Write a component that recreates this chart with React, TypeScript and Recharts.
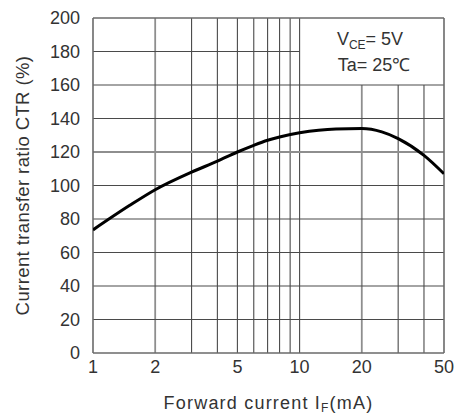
import React from "react";
import {
  LineChart,
  Line,
  XAxis,
  YAxis,
  ReferenceLine,
  Customized,
} from "recharts";

// CTR curve
const currentMA = [1, 1.5, 2, 3, 4, 5, 6, 7, 8, 10, 15, 20, 25, 30, 40, 50];
const ctrPct = [73.5, 88, 97.5, 108, 114.5, 120, 124, 127, 129, 131.5, 133.8, 134, 132, 128, 118, 107];

const xTicks = [1, 2, 5, 10, 20, 50];
const yTicks = [0, 20, 40, 60, 80, 100, 120, 140, 160, 180, 200];

// grid layout of the figure
const fullVertical = [2, 3, 4, 5, 6, 7, 8, 9, 10];
const shortVertical = [20, 30, 40];
const fullHorizontal = [20, 40, 60, 80, 100, 120, 140, 160];
const shortHorizontal = [180];
const lightLines = [2, 20];

const data = currentMA.map((x, i) => ({ x, ctr: ctrPct[i] }));

const FONT = "'Liberation Sans', Arial, Helvetica, sans-serif";
const TXT = "#333";
const GRID = "#4a4a4a";

const XLabel = (props: any) => {
  const { x, y, width } = props.viewBox || {};
  return (
    <text
      x={x + width / 2}
      y={y + 56}
      textAnchor="middle"
      fontFamily={FONT}
      fontSize={18}
      letterSpacing={1.2}
      fill={TXT}
    >
      Forward current I
      <tspan fontSize={12} dy={3}>F</tspan>
      <tspan dy={-3}>(mA)</tspan>
    </text>
  );
};

const YLabel = (props: any) => {
  const { y, height } = props.viewBox || {};
  const cx = 22;
  const cy = y + height / 2;
  return (
    <text
      x={cx}
      y={cy}
      transform={`rotate(-90, ${cx}, ${cy})`}
      textAnchor="middle"
      dominantBaseline="central"
      fontFamily={FONT}
      fontSize={18.5}
      letterSpacing={0.4}
      fill={TXT}
    >
      Current transfer ratio CTR (%)
    </text>
  );
};

const Conditions = () => (
  <g fontFamily={FONT} fontSize={18} fill={TXT}>
    <text x={370} y={45} textAnchor="middle">
      V<tspan fontSize={12} dy={4}>CE</tspan>
      <tspan dy={-4}>= 5V</tspan>
    </text>
    <text x={374} y={71} textAnchor="middle">
      Ta= 25℃
    </text>
  </g>
);

export default function App() {
  return (
    <div style={{ position: "absolute", left: 0, top: 0, width: 457, height: 416, background: "#fff" }}>
      <LineChart
        width={457}
        height={416}
        data={data}
        margin={{ top: 18, right: 13, bottom: 0, left: 8 }}
      >
        <XAxis
          dataKey="x"
          type="number"
          scale="log"
          domain={[1, 50]}
          ticks={xTicks}
          allowDataOverflow
          axisLine={false}
          tickLine={false}
          tickSize={6}
          tickMargin={1}
          height={63}
          tick={{ fontSize: 18, fill: TXT, fontFamily: FONT }}
          label={<XLabel />}
        />
        <YAxis
          type="number"
          domain={[0, 200]}
          ticks={yTicks}
          allowDataOverflow
          axisLine={false}
          tickLine={false}
          tickSize={6}
          tickMargin={7}
          width={85}
          tick={{ fontSize: 18, fill: TXT, fontFamily: FONT }}
          label={<YLabel />}
        />

        {fullVertical.map((v) => (
          <ReferenceLine
            key={`fv${v}`}
            segment={[{ x: v, y: 0 }, { x: v, y: 200 }]}
            stroke={lightLines.includes(v) ? "#8e8e8e" : GRID}
            strokeWidth={lightLines.includes(v) ? 1.8 : 1.1}
          />
        ))}
        {shortVertical.map((v) => (
          <ReferenceLine
            key={`sv${v}`}
            segment={[{ x: v, y: 0 }, { x: v, y: 160 }]}
            stroke={lightLines.includes(v) ? "#8e8e8e" : GRID}
            strokeWidth={lightLines.includes(v) ? 1.8 : 1.1}
          />
        ))}
        {fullHorizontal.map((h) => (
          <ReferenceLine
            key={`fh${h}`}
            segment={[{ x: 1, y: h }, { x: 50, y: h }]}
            stroke={h === 120 ? "#8e8e8e" : GRID}
            strokeWidth={h === 120 ? 1.8 : 1.1}
          />
        ))}
        {shortHorizontal.map((h) => (
          <ReferenceLine
            key={`sh${h}`}
            segment={[{ x: 1, y: h }, { x: 10, y: h }]}
            stroke={GRID}
            strokeWidth={1.1}
          />
        ))}

        {/* plot frame */}
        <ReferenceLine segment={[{ x: 1, y: 0 }, { x: 1, y: 200 }]} stroke="#6a6a6a" strokeWidth={1.6} />
        <ReferenceLine segment={[{ x: 50, y: 0 }, { x: 50, y: 200 }]} stroke="#6a6a6a" strokeWidth={1.6} />
        <ReferenceLine segment={[{ x: 1, y: 0 }, { x: 50, y: 0 }]} stroke="#6a6a6a" strokeWidth={1.6} />
        <ReferenceLine segment={[{ x: 1, y: 200 }, { x: 50, y: 200 }]} stroke="#6a6a6a" strokeWidth={1.6} />

        <Line
          type="monotone"
          dataKey="ctr"
          stroke="#000"
          strokeWidth={3}
          dot={false}
          isAnimationActive={false}
        />
        <Customized component={Conditions} />
      </LineChart>
    </div>
  );
}
